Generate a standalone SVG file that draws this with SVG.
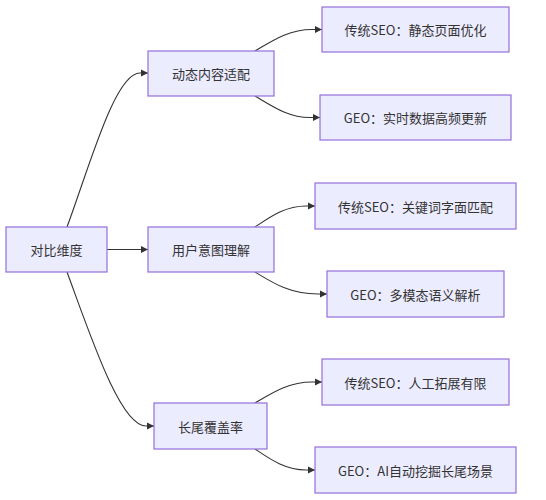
<svg xmlns="http://www.w3.org/2000/svg" width="546" height="500" viewBox="0 0 546 500">
<style>
.node rect{fill:#ECECFF;stroke:#9370DB;stroke-width:1.2}
.node text{font-family:"Noto Sans CJK SC","Noto Sans",sans-serif;font-size:13px;fill:#333;text-anchor:middle;dominant-baseline:central}
.edge{fill:none;stroke:#333;stroke-width:1.1;marker-end:url(#arr)}
</style>
<defs>
<marker id="arr" viewBox="0 0 10 10" refX="10" refY="5" markerWidth="7.5" markerHeight="7.5" markerUnits="userSpaceOnUse" orient="auto">
<path d="M0,0 L10,5 L0,10 z" fill="#333"/>
</marker>
</defs>
<rect width="546" height="500" fill="#fff"/>
<g id="edges">
<path class="edge" d="M67,227 C90,165 115,73 140,73 L148,73"/>
<path class="edge" d="M107,249.5 L148,249.5"/>
<path class="edge" d="M67,272 C90,334 120,426 146,426 L154,426"/>
<path class="edge" d="M255,51 C272,41 288,29.5 312,29.5 L322,29.5"/>
<path class="edge" d="M255,96 C272,106 288,117.5 310,117.5 L320,117.5"/>
<path class="edge" d="M255,227 C270,217 285,206 306,206 L315,206"/>
<path class="edge" d="M255,272 C273,283 290,294 318,294 L327,294"/>
<path class="edge" d="M255,403 C272,393 288,382 312,382 L322,382"/>
<path class="edge" d="M255,449 C270,459 285,470 306,470 L315,470"/>
</g>
<g id="root" class="node"><rect x="6" y="227" width="101" height="45"/><text x="56.5" y="249.5">对比维度</text></g>
<g id="dynamic" class="node"><rect x="148" y="51" width="126" height="45"/><text x="211" y="73.5">动态内容适配</text></g>
<g id="intent" class="node"><rect x="148" y="227" width="126" height="45"/><text x="211" y="249.5">用户意图理解</text></g>
<g id="longtail" class="node"><rect x="154" y="403" width="113" height="46"/><text x="210.5" y="426">长尾覆盖率</text></g>
<g id="seo1" class="node"><rect x="322" y="7" width="187" height="45"/><text x="415.5" y="29.5">传统SEO：静态页面优化</text></g>
<g id="geo1" class="node"><rect x="320" y="95" width="191" height="45"/><text x="415.5" y="117.5">GEO：实时数据高频更新</text></g>
<g id="seo2" class="node"><rect x="315" y="183" width="201" height="46"/><text x="415.5" y="206">传统SEO：关键词字面匹配</text></g>
<g id="geo2" class="node"><rect x="327" y="271" width="177" height="46"/><text x="415.5" y="294">GEO：多模态语义解析</text></g>
<g id="seo3" class="node"><rect x="322" y="359" width="187" height="46"/><text x="415.5" y="382">传统SEO：人工拓展有限</text></g>
<g id="geo3" class="node"><rect x="315" y="447" width="201" height="46"/><text x="415.5" y="470">GEO：AI自动挖掘长尾场景</text></g>
</svg>
